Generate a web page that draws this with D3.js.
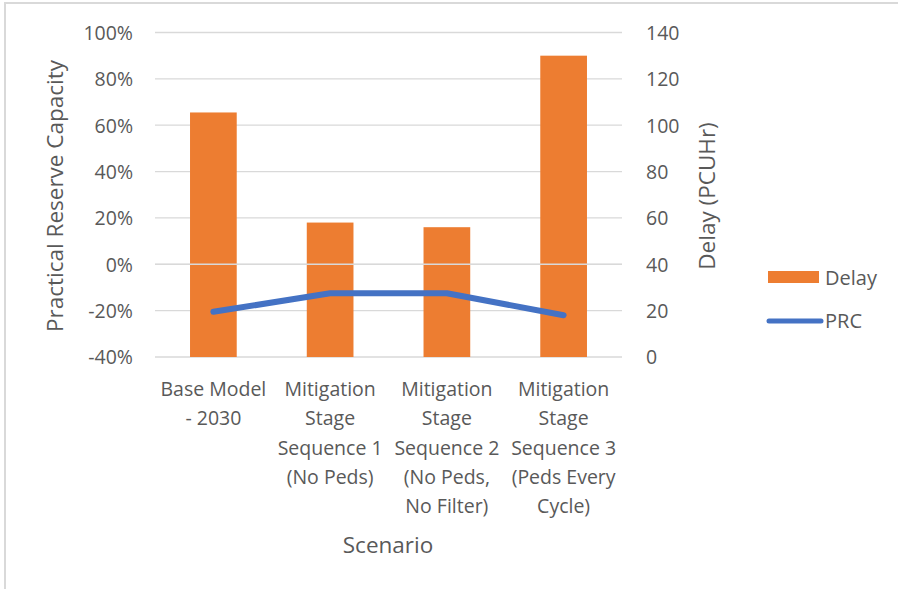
<!DOCTYPE html>
<html><head><meta charset="utf-8">
<script src="https://cdn.jsdelivr.net/npm/d3@7"></script>
<style>
html,body{margin:0;padding:0;background:#fff;}
text{font-family:"Open Sans",Lato,sans-serif;fill:#595959;}
</style></head>
<body>
<svg id="chart" width="898" height="589"></svg>
<script>
const categories = [
  ["Base Model", "- 2030"],
  ["Mitigation", "Stage", "Sequence 1", "(No Peds)"],
  ["Mitigation", "Stage", "Sequence 2", "(No Peds,", "No Filter)"],
  ["Mitigation", "Stage", "Sequence 3", "(Peds Every", "Cycle)"]
];
const delay = [105.5, 58, 56, 130];
const prc = [-0.205, -0.125, -0.125, -0.22];
const leftTicks = [-0.4, -0.2, 0, 0.2, 0.4, 0.6, 0.8, 1.0];
const rightTicks = [0, 20, 40, 60, 80, 100, 120, 140];

const svg = d3.select("#chart");
// outer border
svg.append("line").attr("x1",5).attr("x2",5).attr("y1",2).attr("y2",589).attr("stroke","#d9d9d9").attr("stroke-width",2);
svg.append("line").attr("x1",4).attr("x2",898).attr("y1",3).attr("y2",3).attr("stroke","#d9d9d9").attr("stroke-width",2);

const L = 155, R = 622, T = 32.5, B = 357;
const xc = d3.scaleBand().domain(d3.range(categories.length)).range([L, R]);
const yL = d3.scaleLinear().domain([-0.4, 1.0]).range([B, T]);
const yR = d3.scaleLinear().domain([0, 140]).range([B, T]);
const cx = i => xc(i) + xc.bandwidth()/2;

// gridlines
svg.append("g").selectAll("line").data(leftTicks).join("line")
  .attr("x1", L).attr("x2", R).attr("y1", d => yL(d)).attr("y2", d => yL(d))
  .attr("stroke", "#d9d9d9").attr("stroke-width", 1.3);

// bars
const bw = xc.bandwidth() * 0.4;
svg.append("g").selectAll("rect").data(delay).join("rect")
  .attr("x", (d,i) => cx(i) - bw/2)
  .attr("width", bw)
  .attr("y", d => yR(d)).attr("height", d => yR(0) - yR(d))
  .attr("fill", "#ED7D31");

// zero axis line over bars
svg.append("line").attr("x1", L).attr("x2", R).attr("y1", yL(0)).attr("y2", yL(0))
  .attr("stroke", "#d9d9d9").attr("stroke-width", 1.5);

// line
const line = d3.line().x((d,i) => cx(i)).y(d => yL(d));
svg.append("path").datum(prc).attr("d", line).attr("fill","none")
  .attr("stroke","#4472C4").attr("stroke-width",6).attr("stroke-linecap","round").attr("stroke-linejoin","round");

// left axis
const axL = d3.axisLeft(yL).tickValues(leftTicks).tickFormat(d => Math.round(d*100) + "%").tickSize(0).tickPadding(22);
const gL = svg.append("g").attr("transform", `translate(${L},0)`).call(axL);
gL.select(".domain").remove();
gL.selectAll("text").attr("font-size", 19.5).attr("font-family","Open Sans").attr("fill","#595959").attr("dy","0.35em");

// right axis
const axR = d3.axisRight(yR).tickValues(rightTicks).tickSize(0).tickPadding(24);
const gR = svg.append("g").attr("transform", `translate(${R},0)`).call(axR);
gR.select(".domain").remove();
gR.selectAll("text").attr("font-size", 19.5).attr("font-family","Open Sans").attr("fill","#595959").attr("dy","0.35em");

// category labels
const cg = svg.append("g");
categories.forEach((lines, i) => {
  const t = cg.append("text").attr("text-anchor","middle").attr("font-size",19.5);
  lines.forEach((s, j) => {
    t.append("tspan").attr("x", cx(i)).attr("y", 396 + j*29.3).text(s);
  });
});

// axis titles
svg.append("text").attr("transform","translate(63,196) rotate(-90)").attr("text-anchor","middle")
  .attr("font-size",22.5).text("Practical Reserve  Capacity");
svg.append("text").attr("transform","translate(715,196) rotate(-90)").attr("text-anchor","middle")
  .attr("font-size",22.5).text("Delay (PCUHr)");
svg.append("text").attr("x", 388).attr("y", 553).attr("text-anchor","middle").attr("font-size",22.5).text("Scenario");

// legend
const lg = svg.append("g");
lg.append("rect").attr("x",768).attr("y",271).attr("width",51).attr("height",12).attr("fill","#ED7D31");
lg.append("text").attr("x",825).attr("y",285).attr("font-size",20).text("Delay");
lg.append("line").attr("x1",769).attr("x2",821).attr("y1",321).attr("y2",321).attr("stroke","#4472C4").attr("stroke-width",5).attr("stroke-linecap","round");
lg.append("text").attr("x",825).attr("y",328).attr("font-size",20).text("PRC");
</script>
</body></html>
